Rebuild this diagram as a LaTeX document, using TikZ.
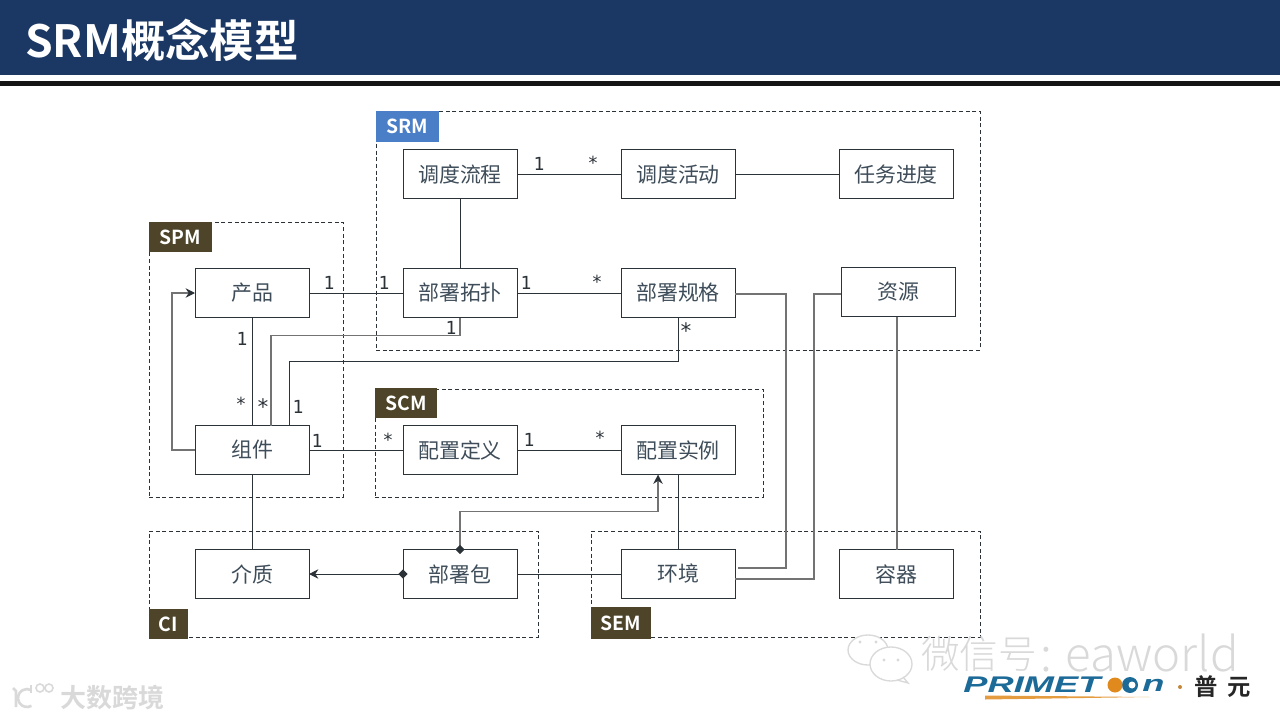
\documentclass[tikz,border=0pt]{standalone}
\usepackage{fontspec}
\usetikzlibrary{arrows.meta,calc,shapes.geometric}
\setmainfont{Noto Sans CJK SC}
\newfontfamily\cjkb{Noto Sans CJK SC Bold}
\newfontfamily\cjkl{Noto Sans CJK SC Light}
\newfontfamily\lbfont{DejaVu Sans Mono}
\newfontfamily\logofont{Liberation Sans Bold Italic}
\definecolor{navy}{HTML}{1B3864}
\definecolor{ink}{HTML}{2B3238}
\definecolor{boxtext}{HTML}{3E4D59}
\definecolor{tagblue}{HTML}{4A7FC8}
\definecolor{tagbrown}{HTML}{4D4429}
\definecolor{wm}{HTML}{D9D9D9}
\definecolor{logoblue}{HTML}{1C6A98}
\definecolor{logoorange}{HTML}{E08A1E}
\tikzset{
  sz/.style 2 args={minimum width=#1*0.75pt,minimum height=#2*0.75pt,inner sep=0pt,outer sep=0pt},
  umlbox/.style={draw=ink,line width=0.75pt,sz={114}{49},text=boxtext,font=\fontsize{15.7pt}{18pt}\selectfont},
  grp/.style={draw=ink,line width=0.6pt,dash pattern=on 3pt off 2pt},
  tagbox/.style={anchor=north west,text=white,font=\cjkb\fontsize{14.5pt}{17pt}\selectfont},
  lbl/.style={text=ink,inner sep=0pt,font=\lbfont\fontsize{13.5pt}{16pt}\selectfont},
  lblbig/.style={lbl,font=\lbfont\fontsize{16pt}{18pt}\selectfont},
  conn/.style={draw=ink,line width=0.75pt},
  gconn/.style={draw=black!55,line width=1pt},
  tip/.style={-{Stealth[length=7pt,width=7pt,color=ink]}},
  dia/.style={draw=none,fill=ink,diamond,inner sep=0pt,minimum size=7pt},
  logotxt/.style={anchor=west,inner sep=0pt,text=logoblue,font=\logofont\fontsize{17pt}{19pt}\selectfont,xscale=1.6},
  yuan/.style={anchor=west,inner sep=0pt,text=black!85,font=\cjkb\fontsize{17.5pt}{20pt}\selectfont}
}
\begin{document}
\begin{tikzpicture}[x=0.75pt,y=-0.75pt]
\useasboundingbox (0,0) rectangle (1280,720);
% header
\fill[navy] (0,0) rectangle (1280,75);
\fill[black!92] (0,81) rectangle (1280,86);
\node[anchor=west,inner sep=0pt,text=white,font=\cjkb\fontsize{33.3pt}{38pt}\selectfont] (title) at (25,40) {SRM概念模型};
% groups
\node[grp,sz={604}{239}] (gSRM) at (678,230.5) {};
\node[grp,sz={194}{275}] (gSPM) at (246,359.5) {};
\node[grp,sz={388}{108}] (gSCM) at (569,443) {};
\node[grp,sz={389}{106}] (gCI) at (343.5,584) {};
\node[grp,sz={389}{106}] (gSEM) at (785.5,584) {};
\node[tagbox,fill=tagblue,sz={63}{31}] (tSRM) at (376,111) {SRM};
\node[tagbox,fill=tagbrown,sz={63}{30}] (tSPM) at (149,222) {SPM};
\node[tagbox,fill=tagbrown,sz={62}{30}] (tSCM) at (375,388) {SCM};
\node[tagbox,fill=tagbrown,sz={39}{30}] (tCI) at (149,609) {CI};
\node[tagbox,fill=tagbrown,sz={60}{32}] (tSEM) at (591,607) {SEM};
% boxes
\node[umlbox] (ddlc) at (460,174.5) {调度流程};
\node[umlbox] (ddhd) at (678,174.5) {调度活动};
\node[umlbox] (rwjd) at (896,174.5) {任务进度};
\node[umlbox] (cp) at (252,293) {产品};
\node[umlbox] (bstp) at (460,293) {部署拓扑};
\node[umlbox] (bsgg) at (678,292.5) {部署规格};
\node[umlbox] (zy) at (898,292) {资源};
\node[umlbox] (zj) at (252,450) {组件};
\node[umlbox] (pzdy) at (460,450) {配置定义};
\node[umlbox] (pzsl) at (678,450) {配置实例};
\node[umlbox] (jz) at (252,574) {介质};
\node[umlbox] (bsb) at (460,574) {部署包};
\node[umlbox] (hj) at (678,574) {环境};
\node[umlbox] (rq) at (896,574) {容器};
% straight connectors
\draw[conn] (ddlc) -- (ddhd);
\draw[conn] (ddhd) -- (rwjd);
\draw[conn] (ddlc) -- (bstp);
\draw[conn] (cp) -- (bstp);
\draw[conn] (bstp.east) -- (bsgg.west |- bstp.east);
\draw[conn] (cp) -- (zj);
\draw[conn] (zj) -- (pzdy);
\draw[conn] (pzdy) -- (pzsl);
\draw[conn] (zj) -- (jz);
\draw[conn] (bsb) -- (hj);
\draw[conn] (hj) -- (pzsl);
\coordinate (zyS) at ($(zy.south)+(-1,0)$);
\draw[gconn] (zyS) -- (rq.north -| zyS);
% routed connectors
\coordinate (zjA) at ($(zj.north west)+(76,0)$);
\coordinate (zjB) at ($(zj.north west)+(94,0)$);
\draw[gconn] (bstp.south) -- ++(0,18) -| (zjA);
\draw[conn] (bsgg.south) -- ++(0,44) -| (zjB);
\draw[gconn,tip] (zj.west) -- ++(-23,0) |- (cp.west);
\coordinate (hjA) at ($(hj.east)+(3,-6)$);
\coordinate (hjB) at ($(hj.east)+(0,5)$);
\coordinate (rA) at (786,294);
\coordinate (rB) at (814,294);
\draw[gconn] (hjA) -| (rA) -- (bsgg.east |- rA);
\draw[gconn] (hjB) -| (rB) -- (zy.west |- rB);
\coordinate (slS) at ($(pzsl.south west)+(37,0)$);
\draw[gconn,tip] (bsb.north) -- ++(0,-38) -| (slS);
\draw[conn,tip] (bsb.west) -- (jz.east);
\node[dia] (d1) at (bsb.north) {};
\node[dia] (d2) at (bsb.west) {};
% multiplicities
\node[lbl] (m1) at (539,164) {1};
\node[lbl] (m2) at (593,163) {*};
\node[lbl] (m3) at (526,283) {1};
\node[lbl] (m4) at (597,282) {*};
\node[lbl] (m5) at (329,283) {1};
\node[lbl] (m6) at (384,283) {1};
\node[lbl] (m7) at (451,328) {1};
\node[lblbig] (m8) at (686,331) {*};
\node[lbl] (m9) at (242,339) {1};
\node[lbl] (m10) at (241,404) {*};
\node[lblbig] (m11) at (263,407) {*};
\node[lbl] (m12) at (298,407) {1};
\node[lbl] (m13) at (317,441) {1};
\node[lbl] (m14) at (388,440) {*};
\node[lbl] (m15) at (529,440) {1};
\node[lbl] (m16) at (600,438) {*};
% watermark: WeChat
\draw[wm,line width=1pt,fill=white] (868,650) ellipse (20 and 15);
\draw[wm,line width=1pt,fill=white] (891,664) ellipse (21 and 17);
\draw[wm,line width=1pt] (903,677) -- (908,683) -- (897,680);
\fill[wm] (884,660) circle (1.6) (898,660) circle (1.6) (860,642) circle (1.6) (876,642) circle (1.6);
\node[anchor=west,inner sep=0pt,text=wm,font=\cjkl\fontsize{29pt}{32pt}\selectfont] (wx) at (921,654) {微信号};
\node[anchor=west,inner sep=0pt,text=wm,font=\cjkl\fontsize{35.5pt}{40pt}\selectfont] (wxe) at (1040,653) {:\hspace{10pt}eaworld};
% watermark: Primeton logo
\node[logotxt] (pr) at (963,685) {PRIMET};
\fill[logoblue] (1130,685) circle (8);
\fill[white] (1132,685) circle (3.5);
\fill[logoorange] (1115,685) circle (7.5);
\node[logotxt] (pn) at (1142,685) {n};
\fill[logoorange!85] (985,695.5) -- (1150,697) -- (985,699.5) -- cycle;
\fill[logoorange!70!gray] (1180,687) circle (2);
\node[yuan] (py) at (1194,687) {普};
\node[yuan] (yy) at (1227,687) {元};
% watermark: bottom-left
\draw[wm,line width=2pt] (13,688) -- (16,691) -- (16,707);
\draw[wm,line width=2pt] (31.5,705.8) arc (60:300:9);
\draw[wm,line width=1.2pt] (31,685) -- (31,693);
\draw[wm,line width=1.2pt] (40,688) circle (4) (49,688) circle (4);
\node[anchor=west,inner sep=0pt,text=wm,font=\cjkb\fontsize{19.5pt}{22pt}\selectfont] (ds) at (60,698) {大数跨境};
\end{tikzpicture}
\end{document}
